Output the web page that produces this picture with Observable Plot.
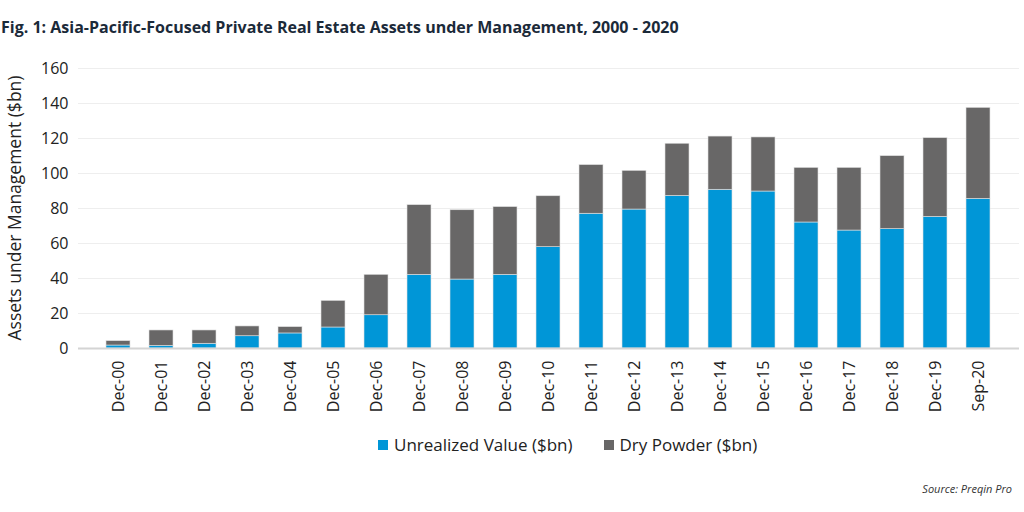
<!DOCTYPE html>
<html><head><meta charset="utf-8">
<script src="https://cdn.jsdelivr.net/npm/d3@7"></script>
<script src="https://cdn.jsdelivr.net/npm/@observablehq/plot@0.6"></script>
<style>
body{margin:0;background:#fff;font-family:"Open Sans",sans-serif;width:1024px;height:512px;overflow:hidden;position:relative}
#title{position:absolute;left:1px;top:16px;font-size:16px;font-weight:700;color:#1b2a39;white-space:nowrap}
#chart{position:absolute;left:0;top:50px}
#ylabel{position:absolute;left:14px;top:208px;transform:translate(-50%,-50%) rotate(-90deg);font-size:17.5px;color:#222;white-space:nowrap}
#legend{position:absolute;top:433px;left:378px;font-size:17px;color:#222;display:flex;align-items:center;white-space:nowrap}
#legend .sw{display:inline-block;width:10px;height:10px;margin-right:6px}
#legend .item{display:flex;align-items:center}
#source{position:absolute;right:12px;top:481px;font-size:11px;font-style:italic;color:#333}
</style></head>
<body>
<div id="title">Fig. 1: Asia-Pacific-Focused Private Real Estate Assets under Management, 2000 - 2020</div>
<div id="chart"></div>
<div id="ylabel">Assets under Management ($bn)</div>
<div id="legend"></div>
<div id="source">Source: Preqin Pro</div>
<script>
const categories = ["Dec-00","Dec-01","Dec-02","Dec-03","Dec-04","Dec-05","Dec-06","Dec-07","Dec-08","Dec-09","Dec-10","Dec-11","Dec-12","Dec-13","Dec-14","Dec-15","Dec-16","Dec-17","Dec-18","Dec-19","Sep-20"];
const unrealized = [1.7,1.5,2.7,7.0,8.6,12.0,19.0,42.1,39.4,42.1,57.9,77.0,79.4,87.2,90.7,89.7,72.0,67.4,68.2,75.2,85.5];
const dryPowder = [2.5,8.8,7.6,5.6,3.6,15.2,23.1,39.8,39.6,38.7,29.1,27.8,22.1,29.8,30.4,30.9,31.2,35.8,41.7,45.0,52.0];
const seriesNames = ["Unrealized Value ($bn)","Dry Powder ($bn)"];
const seriesColors = ["#0096d7","#686767"];
const yTicks = [0,20,40,60,80,100,120,140,160];

const data = categories.flatMap((c,i)=>[
  {cat:c, series:seriesNames[0], value:unrealized[i]},
  {cat:c, series:seriesNames[1], value:dryPowder[i]}
]);

const chart = Plot.plot({
  width:1024, height:375,
  marginTop:18, marginBottom:77, marginLeft:78, marginRight:5,
  style:{fontFamily:"Open Sans", color:"#222", background:"transparent", overflow:"visible"},
  x:{domain:categories, padding:0.44, label:null},
  y:{domain:[0,160], label:null},
  color:{domain:seriesNames, range:seriesColors},
  marks:[
    Plot.gridY(yTicks.slice(1), {stroke:"#eeeeee", strokeOpacity:1}),
    Plot.barY(data, {x:"cat", y:"value", fill:"series", stroke:"#e0e0e0", strokeWidth:0.6}),
    Plot.ruleY([0], {stroke:"#d4d4d4", strokeWidth:2}),
    Plot.axisY(yTicks, {tickSize:0, tickPadding:10, fontSize:16, label:null}),
    Plot.axisX({tickRotate:-90, tickSize:0, tickPadding:12, fontSize:16, label:null})
  ]
});
document.getElementById("chart").appendChild(chart);

const legend = document.getElementById("legend");
seriesNames.forEach((n,i)=>{
  const it = document.createElement("span");
  it.className="item";
  if(i>0) it.style.marginLeft="31px";
  it.innerHTML = `<span class="sw" style="background:${seriesColors[i]}"></span>${n}`;
  legend.appendChild(it);
});
</script>
</body></html>
